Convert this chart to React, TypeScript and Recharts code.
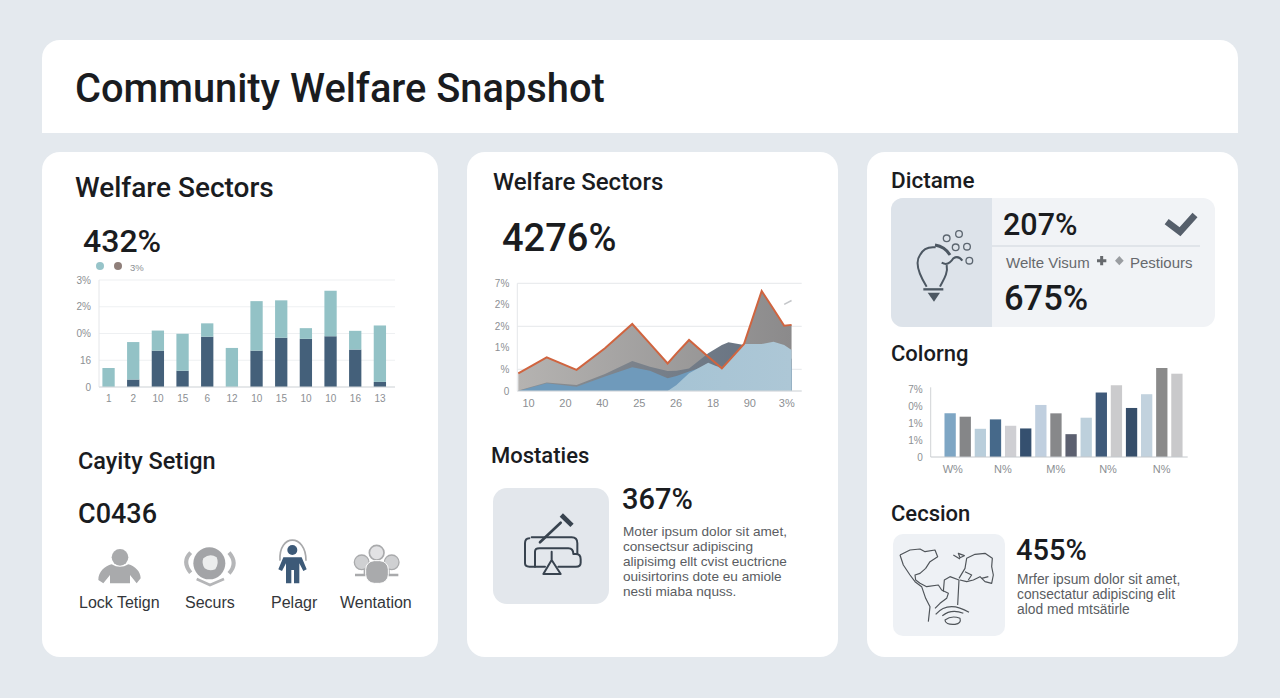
import React from "react";
import { BarChart, Bar, XAxis, YAxis, CartesianGrid, ComposedChart, Area, Line, Cell, ReferenceLine } from "recharts";

const sectorLabels = ["1", "2", "10", "15", "6", "12", "10", "15", "10", "10", "16", "13"];
const sectorBase = [0, 0.28, 1.36, 0.61, 1.88, 0, 1.36, 1.84, 1.8, 1.9, 1.4, 0.19];
const sectorTop = [0.71, 1.4, 0.75, 1.38, 0.5, 1.46, 1.85, 1.4, 0.4, 1.7, 0.7, 2.11];
const sectorYLabels = ["0", "16", "0%", "2%", "3%"];

const trendX = [-0.28, 0.49, 1.3, 2.07, 2.81, 3.29, 3.77, 4.01, 4.35, 4.87, 5.24, 5.42, 5.84, 6.32, 6.64, 6.93, 7.13];
const trendOrange = [0.82, 1.56, 0.98, 1.98, 3.11, 2.2, 1.28, 1.75, 2.37, 1.59, 1.05, 1.39, 2.18, 4.64, 3.81, 3.03, 3.07];
const trendSlate = [0.02, 0.39, 0.28, 0.79, 1.39, 1.13, 0.93, 0.94, 1.05, 1.75, 2.14, 2.26, 2.14, 1.9, 1.75, 1.6, 1.5];
const trendBlue = [0, 0.36, 0.2, 0.67, 1.1, 0.94, 0.59, 0.7, 0.9, 1.2, 1.13, 1.1, 1.1, 1.1, 1.1, 1.1, 1.1];
const trendLight = [0, 0, 0, 0, 0, 0, 0, 0.28, 0.82, 1.31, 1.04, 1.39, 2.18, 2.18, 2.29, 2.14, 1.9];
const trendFaint = [null, null, null, null, null, null, null, null, null, null, null, null, null, null, null, 4.02, 4.2];
const trendXLabels = ["10", "20", "40", "25", "26", "18", "90", "3%"];
const trendYLabels = ["0", "%", "1%", "2%", "2%", "7%"];

const colorPositions = [1.28, 2.28, 3.28, 4.28, 5.28, 6.28, 7.28, 8.28, 9.28, 10.28, 11.28, 12.28, 13.28, 14.28, 15.28, 16.28];
const colorValues = [2.6, 2.4, 1.68, 2.24, 1.86, 1.7, 3.1, 2.6, 1.36, 2.34, 3.84, 4.28, 2.92, 3.74, 5.3, 4.96];
const colorFills = ["#7ea6c4", "#858688", "#b9cedb", "#46698a", "#cfcfd3", "#35506f", "#c0cfdf", "#87888a", "#5c6070", "#bdd0dc", "#3f5a7a", "#cbcbcd", "#364e6a", "#c2d2de", "#8a8a8a", "#c9c9cb"];
const colorYLabels = ["0", "1%", "1%", "0%", "7%"];
const colorXTicks = [1.46, 4.78, 8.27, 11.73, 15.28];
const colorXLabels = ["W%", "N%", "M%", "N%", "N%"];

const sectorData = sectorLabels.map((label, i) => ({ id: i, label, base: sectorBase[i], top: sectorTop[i] }));
const trendData = trendX.map((x, i) => ({ x, orange: trendOrange[i], slate: trendSlate[i], blue: trendBlue[i], light: trendLight[i], faint: trendFaint[i] }));
const colorData = colorValues.map((v, i) => ({ id: i, pos: colorPositions[i], v }));

const SANS = "Roboto, 'Liberation Sans', sans-serif";
const BODY = "'Liberation Sans', Arial, sans-serif";
const axisTick = { fontSize: 10, fill: "#8c8f93", fontFamily: BODY };

function T({ x, y, size, weight = 400, color = "#1a1c1f", font = SANS, children }: any) {
  return (
    <div style={{ position: "absolute", left: x, top: y - size * 0.6 + 0.7, fontSize: size, lineHeight: 1.2, fontWeight: weight, color, fontFamily: font, whiteSpace: "nowrap" }}>
      {children}
    </div>
  );
}

function Box({ x, y, w, h, bg = "#fff", r = 18, style = {} }: any) {
  return <div style={{ position: "absolute", left: x, top: y, width: w, height: h, background: bg, borderRadius: r, ...style }} />;
}

function Paragraph({ x, y, size, lines }: any) {
  return (
    <>
      {lines.map((l: string, i: number) => (
        <T key={i} x={x} y={y + i * 15} size={size} color="#5a5d62" font={BODY}>{l}</T>
      ))}
    </>
  );
}

function Icons() {
  const k = 1 / 3;
  return (
    <svg width={1280} height={698} style={{ position: "absolute", left: 0, top: 0, pointerEvents: "none" }}>
      <g transform={`translate(70 530) scale(${k})`}>
        <circle cx={150} cy={82} r={25} fill="#a9aaac" />
        <path d="M85 150 C85 125 105 108 125 103 Q150 118 175 103 C195 108 212 125 212 145 L200 160 L180 135 L180 160 H120 L120 135 L100 160 Z" fill="#a9aaac" />
        <circle cx={418} cy={100} r={48} fill="#a3a4a7" />
        <path d="M400 85 Q420 68 440 82 Q448 100 436 118 Q418 125 404 115 Q394 100 400 85 Z" fill="#eceded" />
        <path d="M362 68 Q335 95 362 128 M477 68 Q505 100 477 130" stroke="#b5b6b8" strokeWidth={12} fill="none" />
        <path d="M380 147 L420 165 L462 147" stroke="#b5b6b8" strokeWidth={8} fill="none" />
        <path d="M630 92 C625 10 708 10 708 92" stroke="#a8a9ab" strokeWidth={5} fill="none" />
        <circle cx={667} cy={60} r={15} fill="#3d5a78" />
        <path d="M640 82 H695 L710 118 L700 123 L688 100 V160 H672 V120 H664 V160 H648 V100 L636 123 L625 118 Z" fill="#3d5a78" />
        <circle cx={875} cy={97} r={22} fill="#cfd0d2" stroke="#a9aaac" strokeWidth={4} />
        <circle cx={965} cy={97} r={22} fill="#cfd0d2" stroke="#a9aaac" strokeWidth={4} />
        <circle cx={920} cy={68} r={22} fill="#e2e2e4" stroke="#a9aaac" strokeWidth={5} />
        <path d="M855 135 H885 V122 H955 V135 H985" stroke="#a9aaac" strokeWidth={8} fill="none" />
        <rect x={887} y={92} width={68} height={68} rx={26} fill="#a9aaac" stroke="#fff" strokeWidth={3} />
      </g>
      <g transform={`translate(885 190) scale(${k})`} fill="none" stroke="#4c5762" strokeWidth={6}>
        <path d="M125 290 C100 250 90 215 105 195 C115 175 135 170 152 172" />
        <path d="M185 225 C190 250 175 270 165 290" />
        <path d="M115 298 H175" strokeWidth={7} />
        <path d="M128 308 H165 L147 335 Z" fill="#4c5762" stroke="none" />
        <path d="M150 165 Q180 170 195 195" strokeWidth={9} />
        <path d="M170 218 Q190 230 205 205 Q220 195 232 212" />
        <g strokeWidth={4} stroke="#5c6670">
          <circle cx={185} cy={145} r={10} />
          <circle cx={222} cy={132} r={10} />
          <circle cx={212} cy={172} r={10} />
          <circle cx={246} cy={170} r={10} />
          <circle cx={253} cy={212} r={10} />
        </g>
        <path d="M845 95 L885 125 L930 75" stroke="#565f6b" strokeWidth={20} />
        <path d="M650 198 V226 M636 212 H664" stroke="#66696d" strokeWidth={9} />
        <path d="M703 198 L716 212 L703 226 L690 212 Z" fill="#9a9da1" stroke="none" />
      </g>
      <g transform={`translate(490 480) scale(${k})`} fill="none" stroke="#38434f" strokeWidth={6} strokeLinejoin="round" strokeLinecap="round">
        <path d="M150 187 L212 128" strokeWidth={8} />
        <path d="M214 105 L246 136" strokeWidth={14} strokeLinecap="butt" />
        <path d="M125 172 H245 Q262 172 262 190 V222" />
        <path d="M118 175 Q105 175 105 190 V250 Q105 260 118 260 H165" />
        <path d="M135 260 V215 Q135 205 148 205 H235 Q250 205 250 222 H258 Q272 222 272 238 V248 Q272 260 258 260 H205" />
        <path d="M185 215 V240 L160 282 H212 L185 240" />
      </g>
      <g transform={`translate(885 525) scale(${k})`} fill="none" stroke="#4f5459" strokeWidth={3.5} strokeLinejoin="round">
        <path d="M45 90 L75 75 L105 72 L120 80 L150 75 L158 95 L135 110 L122 130 L105 145 L90 150 L92 165 L105 175 L125 185 L160 180 L170 195 L190 205 L185 220 L165 235 L150 250" />
        <path d="M45 90 L55 120 L75 150 L90 170 L110 185 L122 220 L135 245 L130 290" />
        <path d="M175 200 L178 165 L195 155 L222 165 L218 240" />
        <path d="M222 160 L240 130 L245 100 L270 88 L300 85 L322 100 L320 125 L325 150 L320 175 L300 170 L285 155 L265 165 L245 170 L225 165" />
        <path d="M205 90 L225 102 M220 85 L238 92 L225 98 Z" />
        <path d="M240 140 L260 150 L250 165 M290 160 L310 155" />
        <path d="M152 268 Q190 225 252 262 M172 272 Q200 250 235 265" />
        <path d="M180 285 Q200 270 225 280 Q230 295 210 298 Q180 300 180 285 Z" />
      </g>
    </svg>
  );
}

function SectorChart() {
  return (
    <div style={{ position: "absolute", left: 70, top: 270 }}>
      <BarChart width={340} height={147} data={sectorData} margin={{ top: 10, right: 15, bottom: 0, left: 0 }} barCategoryGap="0%">
        <CartesianGrid vertical={false} stroke="#eef0f2" strokeWidth={1.2} />
        <XAxis dataKey="id" height={30} padding={{ left: -2.6, right: 2.6 }} tickLine={false} axisLine={{ stroke: "#d4d8db" }} tick={axisTick} interval={0} tickFormatter={(_: any, i: number) => sectorLabels[i]} />
        <YAxis width={29} domain={[0, 4]} ticks={[0, 1, 2, 3, 4]} tickLine={false} axisLine={{ stroke: "#e4e6e9" }} tick={axisTick} tickFormatter={(_: any, i: number) => sectorYLabels[i]} />
        <Bar dataKey="base" stackId="s" fill="#44607a" barSize={12.3} isAnimationActive={false} />
        <Bar dataKey="top" stackId="s" fill="#93c2c6" barSize={12.3} isAnimationActive={false} />
      </BarChart>
    </div>
  );
}

function TrendChart() {
  return (
    <div style={{ position: "absolute", left: 480, top: 275 }}>
      <ComposedChart width={340} height={146} data={trendData} margin={{ top: 8.3, right: 18.3, bottom: 0, left: 0 }}>
        <defs>
          <linearGradient id="gGray" x1="0" y1="0" x2="1" y2="0">
            <stop offset="0" stopColor="#b5b3b1" />
            <stop offset="1" stopColor="#8b8a8b" />
          </linearGradient>
          <linearGradient id="gSlate" x1="0" y1="0" x2="1" y2="0">
            <stop offset="0" stopColor="#8d9093" />
            <stop offset="1" stopColor="#626f80" />
          </linearGradient>
          <linearGradient id="gLight" x1="0" y1="0" x2="1" y2="0">
            <stop offset="0" stopColor="#9dbfd2" />
            <stop offset="1" stopColor="#adc7d6" />
          </linearGradient>
        </defs>
        <CartesianGrid vertical={false} stroke="#eaecee" strokeWidth={1.2} />
        <XAxis dataKey="x" type="number" domain={[-0.307, 7.405]} ticks={[0, 1, 2, 3, 4, 5, 6, 7]} height={30} tickLine={false} axisLine={{ stroke: "#d4d8db" }} tick={{ ...axisTick, fontSize: 11 }} interval={0} tickFormatter={(v: number) => trendXLabels[v]} />
        <YAxis width={37.3} domain={[0, 5]} ticks={[0, 1, 2, 3, 4, 5]} tickLine={false} axisLine={{ stroke: "#e4e6e9" }} tick={axisTick} tickFormatter={(_: any, i: number) => trendYLabels[i]} />
        <Area dataKey="orange" type="linear" fill="url(#gGray)" fillOpacity={1} stroke="none" dot={false} activeDot={false} isAnimationActive={false} />
        <Area dataKey="slate" type="linear" fill="url(#gSlate)" fillOpacity={1} stroke="none" dot={false} activeDot={false} isAnimationActive={false} />
        <Area dataKey="blue" type="linear" fill="#6f9abb" fillOpacity={1} stroke="none" dot={false} activeDot={false} isAnimationActive={false} />
        <Area dataKey="light" type="linear" fill="url(#gLight)" fillOpacity={1} stroke="none" dot={false} activeDot={false} isAnimationActive={false} />
        <Line dataKey="faint" type="linear" stroke="#c4c6c9" strokeWidth={1.5} dot={false} activeDot={false} connectNulls={false} isAnimationActive={false} />
        <Line dataKey="orange" type="linear" stroke="#d0643f" strokeWidth={2} dot={false} activeDot={false} isAnimationActive={false} />
      </ComposedChart>
    </div>
  );
}

function ColorChart() {
  return (
    <div style={{ position: "absolute", left: 890, top: 360 }}>
      <BarChart width={310} height={121} data={colorData} margin={{ top: 8, right: 12.3, bottom: 0, left: 0 }}>
        <XAxis dataKey="pos" type="number" domain={[0, 17]} ticks={colorXTicks} height={24} tickLine={false} axisLine={{ stroke: "#c4c8cc" }} tick={{ ...axisTick, fontSize: 11 }} interval={0} tickFormatter={(_: any, i: number) => colorXLabels[i]} />
        <YAxis width={40.7} domain={[0, 5.3]} ticks={[0, 1, 2, 3, 4]} tickLine={false} axisLine={false} tick={axisTick} tickFormatter={(_: any, i: number) => colorYLabels[i]} />
        <ReferenceLine segment={[{ x: 0, y: 0 }, { x: 0, y: 4.15 }]} stroke="#d0d3d6" ifOverflow="visible" />
        <Bar dataKey="v" barSize={11.3} isAnimationActive={false}>
          {colorData.map((d) => (
            <Cell key={d.id} fill={colorFills[d.id]} />
          ))}
        </Bar>
      </BarChart>
    </div>
  );
}

export default function App() {
  return (
    <div style={{ position: "absolute", left: 0, top: 0, width: 1280, height: 698, overflow: "hidden", background: "#e4e9ee" }}>
      <Box x={42} y={40} w={1196} h={93} r={0} style={{ borderRadius: "18px 18px 0 0" }} />
      <Box x={42} y={152} w={396} h={505} />
      <Box x={467} y={152} w={371} h={505} />
      <Box x={867} y={152} w={371} h={505} />
      <Box x={891} y={198} w={324} h={129} bg="#f1f3f6" r={12} />
      <Box x={891} y={198} w={101} h={129} bg="#dde3ea" r={0} style={{ borderRadius: "12px 0 0 12px" }} />
      <Box x={992} y={245} w={208} h={1.5} bg="#e0e4e9" r={0} />
      <Box x={493} y={488} w={116} h={116} bg="#e3e7ec" r={14} />
      <Box x={893} y={534} w={112} h={102} bg="#eef1f5" r={10} />

      <T x={75} y={88} size={39.8} weight={500}>Community Welfare Snapshot</T>

      <T x={75} y={187} size={28} weight={500}>Welfare Sectors</T>
      <T x={83} y={240} size={32} weight={500}>432%</T>
      <div style={{ position: "absolute", left: 96, top: 262, width: 8, height: 8, borderRadius: 4, background: "#97c4c9" }} />
      <div style={{ position: "absolute", left: 114, top: 262, width: 8, height: 8, borderRadius: 4, background: "#8f7f7a" }} />
      <T x={130} y={267} size={9.5} color="#8c8f93" font={BODY}>3%</T>
      <SectorChart />
      <T x={78} y={460} size={23.5} weight={500}>Cayity Setign</T>
      <T x={78} y={513} size={27} weight={500}>C0436</T>
      <T x={79} y={602} size={16} color="#33363a" font={BODY}>Lock Tetign</T>
      <T x={185} y={602} size={16} color="#33363a" font={BODY}>Securs</T>
      <T x={271} y={602} size={16} color="#33363a" font={BODY}>Pelagr</T>
      <T x={340} y={602} size={16} color="#33363a" font={BODY}>Wentation</T>

      <T x={493} y={182} size={24} weight={500}>Welfare Sectors</T>
      <T x={502} y={238} size={38} weight={500}>4276%</T>
      <TrendChart />
      <T x={491} y={455} size={22} weight={500}>Mostaties</T>
      <T x={622} y={499} size={29} weight={500}>367%</T>
      <Paragraph x={623} y={531} size={13.6} lines={["Moter ipsum dolor sit amet,", "consectsur adipiscing", "alipisimg ellt cvist euctricne", "ouisirtorins dote eu amiole", "nesti miaba nquss."]} />

      <T x={891} y={180} size={22.5} weight={500}>Dictame</T>
      <T x={1003} y={225} size={30.5} weight={500}>207%</T>
      <T x={1006} y={262} size={15} color="#66696d" font={BODY}>Welte Visum</T>
      <T x={1130} y={262} size={15} color="#66696d" font={BODY}>Pestiours</T>
      <T x={1004} y={298} size={34.5} weight={500}>675%</T>
      <T x={891} y={353} size={22} weight={500}>Colorng</T>
      <ColorChart />
      <T x={891} y={513} size={22} weight={500}>Cecsion</T>
      <T x={1016} y={550} size={29} weight={500}>455%</T>
      <Paragraph x={1017} y={580} size={13.8} lines={["Mrfer ipsum dolor sit amet,", "consectatur adipiscing elit", "alod med mtsätirle"]} />
      <Icons />
    </div>
  );
}
